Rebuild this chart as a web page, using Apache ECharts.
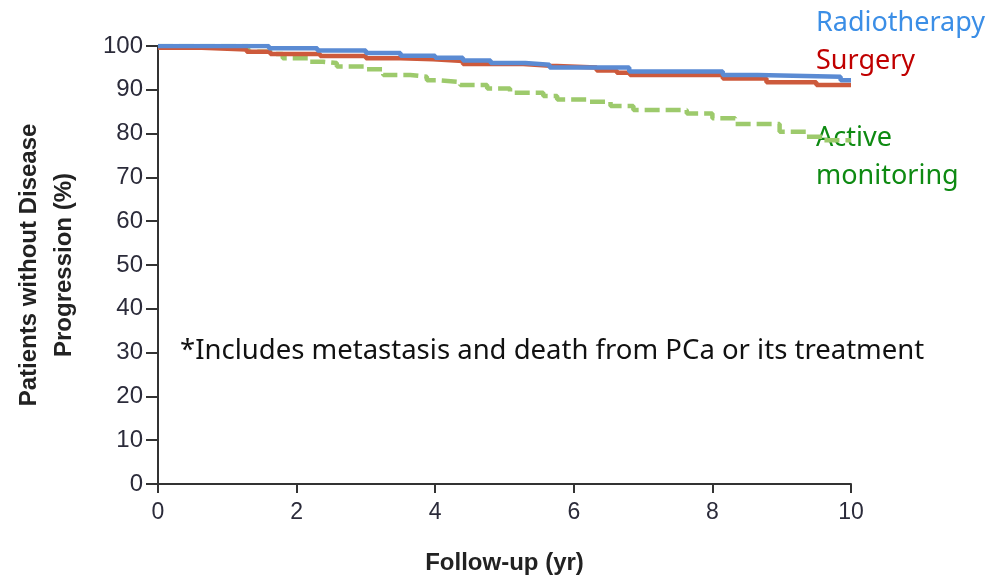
<!DOCTYPE html>
<html>
<head>
<meta charset="utf-8">
<script src="https://cdn.jsdelivr.net/npm/echarts@6/dist/echarts.min.js"></script>
<style>
html,body{margin:0;padding:0;background:#fff;}
#chart{width:991px;height:580px;}
</style>
</head>
<body>
<div id="chart"></div>
<script>
// Kaplan-Meier style step data: each point = (time from which value holds, value %)
const radioTimes  = [0, 1.6, 2.3, 3.0, 3.5, 4.0, 4.4, 4.8, 5.3, 5.65, 6.8, 8.15, 8.65, 9.85, 10];
const radioValues = [100, 99.5, 99.0, 98.4, 97.8, 97.3, 96.7, 96.1, 95.7, 95.1, 94.2, 93.4, 93.0, 92.2, 92.2];

const surgTimes  = [0, 0.63, 1.28, 1.62, 2.34, 3.0, 3.5, 3.97, 4.4, 5.27, 5.66, 6.33, 6.62, 6.81, 8.15, 8.78, 9.5, 10];
const surgValues = [99.6, 99.2, 98.7, 98.2, 97.7, 97.2, 97.0, 96.6, 95.9, 95.5, 95.1, 94.4, 93.9, 93.4, 92.6, 91.7, 91.1, 91.1];

const activeTimes  = [0, 1.3, 1.66, 1.8, 2.19, 2.38, 2.58, 3.01, 3.25, 3.64, 3.88, 4.02, 4.36, 4.75, 5.08, 5.56, 5.76, 6.19, 6.53, 6.86, 7.63, 8.0, 8.33, 8.97, 9.36, 9.6, 10];
const activeValues = [100, 98.7, 98.2, 97.2, 96.4, 96.1, 95.3, 94.7, 93.4, 93.0, 92.2, 91.8, 91.1, 90.3, 89.3, 88.6, 87.8, 87.3, 86.3, 85.4, 84.6, 83.5, 82.2, 80.4, 79.3, 78.5, 78.5];

const xTicks = [0, 2, 4, 6, 8, 10];
const yTicks = [0, 10, 20, 30, 40, 50, 60, 70, 80, 90, 100];

const seriesNames = ['Radiotherapy', 'Surgery', 'Active', 'monitoring'];
const yAxisTitle = 'Patients without Disease\nProgression (%)';
const xAxisTitle = 'Follow-up (yr)';
const footnote = '*Includes metastasis and death from PCa or its treatment';

function pairs(t, v) { return t.map((x, i) => [x, v[i]]); }

const chart = echarts.init(document.getElementById('chart'), null, {renderer: 'canvas'});
const axisColor = '#333';
const labelColor = '#2b2b3a';
const tickFont = 'Liberation Sans';

chart.setOption({
  animation: false,
  backgroundColor: '#fff',
  grid: {left: 158, right: 140, top: 46, bottom: 96, containLabel: false, outerBoundsMode: 'none'},
  xAxis: {
    type: 'value', min: 0, max: 10, interval: 2,
    axisLine: {show: true, onZero: false, lineStyle: {color: axisColor, width: 2}},
    axisTick: {show: true, length: 9, lineStyle: {color: axisColor, width: 2}},
    axisLabel: {color: labelColor, fontSize: 23, fontFamily: tickFont, margin: 17,
      formatter: v => xTicks.includes(v) ? String(v) : ''},
    splitLine: {show: false},
    name: xAxisTitle, nameLocation: 'middle', nameGap: 67,
    nameTextStyle: {color: '#222', fontSize: 24, fontWeight: 'bold', fontFamily: tickFont}
  },
  yAxis: {
    type: 'value', min: 0, max: 100, interval: 10,
    axisLine: {show: true, onZero: false, lineStyle: {color: axisColor, width: 2}},
    axisTick: {show: true, length: 12, lineStyle: {color: axisColor, width: 2}},
    axisLabel: {color: labelColor, fontSize: 24, fontFamily: tickFont, margin: 15,
      formatter: v => yTicks.includes(v) ? String(v) : ''},
    splitLine: {show: false},
    name: yAxisTitle, nameLocation: 'middle', nameGap: 76, nameRotate: 90,
    nameTextStyle: {color: '#222', fontSize: 24, fontWeight: 'bold', fontFamily: tickFont, lineHeight: 35}
  },
  series: [
    {
      name: 'Active monitoring', type: 'line', step: 'end', showSymbol: false, z: 2,
      data: pairs(activeTimes, activeValues),
      lineStyle: {color: '#9dca6c', width: 4.5, type: [15, 6]}
    },
    {
      name: 'Surgery', type: 'line', step: 'end', showSymbol: false, z: 3,
      data: pairs(surgTimes, surgValues),
      lineStyle: {color: '#cd5a3c', width: 4.5}
    },
    {
      name: 'Radiotherapy', type: 'line', step: 'end', showSymbol: false, z: 4,
      data: pairs(radioTimes, radioValues),
      lineStyle: {color: '#5b8bd3', width: 4.5}
    }
  ],
  graphic: [
    {type: 'text', left: 816, top: 10, style: {text: seriesNames[0], fill: '#3b8ee6', font: '27px "Noto Sans"'}},
    {type: 'text', left: 816, top: 48, style: {text: seriesNames[1], fill: '#c00000', font: '27px "Noto Sans"'}},
    {type: 'text', left: 816, top: 125, style: {text: seriesNames[2], fill: '#0e8a12', font: '27px "Noto Sans"'}},
    {type: 'text', left: 816, top: 163, style: {text: seriesNames[3], fill: '#0e8a12', font: '27px "Noto Sans"'}},
    {type: 'text', left: 180, top: 337, style: {text: footnote, fill: '#111', font: '27.5px "Noto Sans"'}}
  ]
});
</script>
</body>
</html>
